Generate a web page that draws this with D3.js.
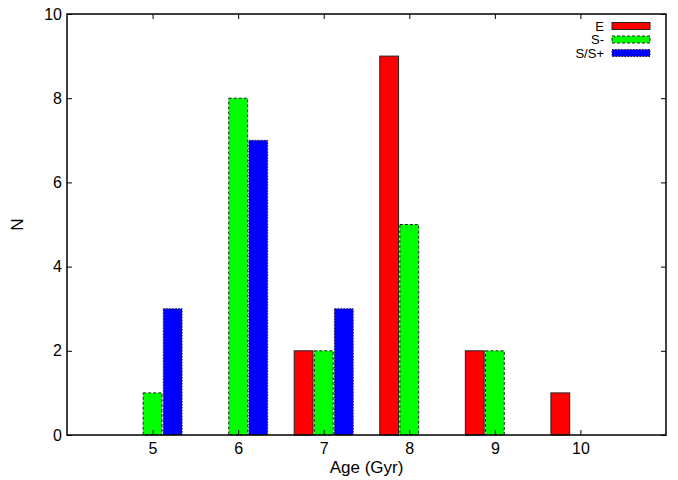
<!DOCTYPE html>
<html>
<head>
<meta charset="utf-8">
<script src="https://cdn.jsdelivr.net/npm/d3@7"></script>
<style>
  body { margin: 0; background: #fff; }
  text { font-family: "Liberation Sans", Arial, sans-serif; }
</style>
</head>
<body>
<div id="chart"></div>
<script>
// ages (Gyr) and counts per class
const ages = [5, 6, 7, 8, 9, 10];
const countE = [0, 0, 2, 9, 2, 1];
const countSminus = [1, 8, 2, 5, 2, 0];
const countSplus = [3, 7, 3, 0, 0, 0];
const xTicks = [5, 6, 7, 8, 9, 10];
const yTicks = [0, 2, 4, 6, 8, 10];

const series = [
  { name: "E", values: countE, fill: "#ff0000", dash: null, offset: -0.235 },
  { name: "S-", values: countSminus, fill: "#00ff00", dash: "3,2", offset: 0 },
  { name: "S/S+", values: countSplus, fill: "#0000ff", dash: "1.5,1.5", offset: 0.235 }
];

const width = 678, height = 480;
const margin = { top: 14, right: 12, bottom: 45, left: 67 };
const w = width - margin.left - margin.right,
  h = height - margin.top - margin.bottom;

const svg = d3.select("#chart")
  .append("svg")
  .attr("width", width)
  .attr("height", height)
  .append("g")
  .attr("transform", `translate(${margin.left},${margin.top})`);

const x = d3.scaleLinear().domain([4, 11]).range([0, w]);
const y = d3.scaleLinear().domain([0, 10]).range([h, 0]);
const barW = x(4.22) - x(4);

// bars
series.forEach(s => {
  svg.append("g")
    .selectAll("rect")
    .data(ages.map((a, i) => ({ age: a, n: s.values[i] })))
    .join("rect")
    .attr("x", d => x(d.age + s.offset) - barW / 2)
    .attr("y", d => y(d.n))
    .attr("width", barW)
    .attr("height", d => h - y(d.n))
    .attr("fill", s.fill)
    .attr("stroke", "#222")
    .attr("stroke-width", 1)
    .attr("stroke-dasharray", s.dash);
});

// axes, ticks pointing inward, mirrored
svg.append("g")
  .attr("transform", `translate(0,${h})`)
  .call(d3.axisBottom(x).tickValues(xTicks).tickFormat(d3.format("d")).tickSizeInner(-5).tickSizeOuter(0).tickPadding(8))
  .call(g => g.select(".domain").remove());
svg.append("g")
  .call(d3.axisTop(x).tickValues(xTicks).tickSizeInner(-5).tickSizeOuter(0).tickFormat(""))
  .call(g => g.select(".domain").remove());
svg.append("g")
  .call(d3.axisLeft(y).tickValues(yTicks).tickFormat(d3.format("d")).tickSizeInner(-5).tickSizeOuter(0).tickPadding(5))
  .call(g => g.select(".domain").remove());
svg.append("g")
  .attr("transform", `translate(${w},0)`)
  .call(d3.axisRight(y).tickValues(yTicks).tickSizeInner(-5).tickSizeOuter(0).tickFormat(""))
  .call(g => g.select(".domain").remove());

svg.selectAll(".tick text").attr("font-size", 16).attr("fill", "#000");
svg.selectAll(".tick line").attr("stroke", "#000");

svg.append("rect")
  .attr("width", w).attr("height", h)
  .attr("fill", "none").attr("stroke", "#000").attr("stroke-width", 1.5);

// axis labels
svg.append("text")
  .attr("x", w / 2).attr("y", h + 38)
  .attr("text-anchor", "middle").attr("font-size", 17)
  .text("Age (Gyr)");
svg.append("text")
  .attr("transform", `translate(${-44},${h / 2}) rotate(-90)`)
  .attr("text-anchor", "middle").attr("font-size", 17)
  .text("N");

// legend
const legend = svg.append("g").attr("transform", `translate(${w - 54},${12})`);
series.forEach((s, i) => {
  const row = legend.append("g").attr("transform", `translate(0,${i * 13.5})`);
  row.append("text")
    .attr("x", -8).attr("y", 4.5)
    .attr("text-anchor", "end").attr("font-size", 13)
    .text(s.name);
  row.append("rect")
    .attr("x", 0).attr("y", -3.5)
    .attr("width", 38).attr("height", 7)
    .attr("fill", s.fill)
    .attr("stroke", "#222")
    .attr("stroke-dasharray", s.dash);
});
</script>
</body>
</html>
